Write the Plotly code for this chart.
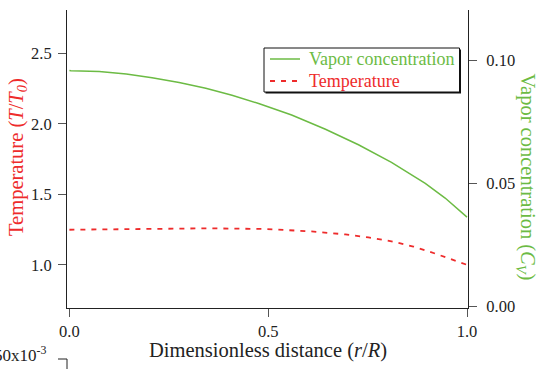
import plotly.graph_objects as go

# Vapor concentration (right axis)
r_cv = [0.0, 0.004, 0.075, 0.143, 0.208, 0.276, 0.343, 0.409, 0.476, 0.559, 0.644, 0.727, 0.810, 0.895, 0.945, 0.987, 1.0]
cv = [0.0960, 0.0959, 0.0955, 0.0945, 0.0930, 0.0911, 0.0887, 0.0859, 0.0825, 0.0778, 0.0720, 0.0657, 0.0585, 0.0500, 0.0440, 0.0380, 0.0362]

# Temperature (left axis)
r_t = [0.0, 0.183, 0.351, 0.494, 0.609, 0.694, 0.752, 0.810, 0.865, 0.922, 0.982, 1.0]
temp = [1.249, 1.254, 1.259, 1.254, 1.237, 1.216, 1.195, 1.167, 1.130, 1.078, 1.018, 1.0]

series_names = ["Vapor concentration", "Temperature"]

GREEN = "#6cbb44"
RED = "#ee2b2b"
FONT = "Times New Roman, Liberation Serif, serif"

fig = go.Figure()
fig.add_trace(go.Scatter(x=r_cv, y=cv, mode="lines", yaxis="y2",
                         line=dict(color=GREEN, width=1.5), name=series_names[0], showlegend=False))
fig.add_trace(go.Scatter(x=r_t, y=temp, mode="lines",
                         line=dict(color=RED, width=1.8, dash="5px,6px"), name=series_names[1], showlegend=False))

axis_common = dict(showgrid=False, zeroline=False, showline=True, linecolor="#222", linewidth=1,
                   ticks="outside", ticklen=8, tickcolor="#555", tickwidth=1,
                   tickfont=dict(family=FONT, size=16.5, color="#222"))

fig.update_layout(
    width=540, height=369,
    margin=dict(l=67, r=72, t=10, b=61),
    paper_bgcolor="white", plot_bgcolor="white",
    showlegend=False,
    xaxis=dict(range=[-0.006, 1.0025], tickvals=[0, 0.5, 1.0], ticktext=["0.0", "0.5", "1.0"],
               **axis_common),
    yaxis=dict(range=[0.694, 2.807], tickvals=[1.0, 1.5, 2.0, 2.5], ticktext=["1.0", "1.5", "2.0", "2.5"],
               ticklabelstandoff=3, **axis_common),
    yaxis2=dict(range=[-0.0008, 0.1206], overlaying="y", side="right",
                tickvals=[0.0, 0.05, 0.10], ticktext=["0.00", "0.05", "0.10"],
                ticklabelstandoff=6, **axis_common),
)


def px(x):
    return (x - 67) / 401


def py(y):
    return (308 - y) / 298


# titles
fig.add_annotation(text="Dimensionless distance (<i>r</i>/<i>R</i>)", xref="paper", yref="paper",
                   x=px(268), y=py(350), xanchor="center", yanchor="middle", showarrow=False,
                   font=dict(family=FONT, size=20.5, color="#222"))
fig.add_annotation(text="Temperature (<i>T</i>/<i>T</i><sub><i>0</i></sub>)", xref="paper", yref="paper",
                   x=px(17), y=py(157), xanchor="center", yanchor="middle", showarrow=False, textangle=-90,
                   font=dict(family=FONT, size=20.5, color=RED))
fig.add_annotation(text="Vapor concentration (<i>C</i><sub><i>V</i></sub>)", xref="paper", yref="paper",
                   x=px(526.5), y=py(177), xanchor="center", yanchor="middle", showarrow=False, textangle=90,
                   font=dict(family=FONT, size=20.5, color=GREEN))
fig.add_annotation(text="50x10<sup>-3</sup>", xref="paper", yref="paper",
                   x=px(48), y=py(354), xanchor="right", yanchor="middle", showarrow=False,
                   font=dict(family=FONT, size=17, color="#222"))
fig.add_shape(type="line", xref="paper", yref="paper",
              x0=px(58), x1=px(67), y0=py(359), y1=py(359), line=dict(color="#222", width=1))
fig.add_shape(type="line", xref="paper", yref="paper",
              x0=px(67), x1=px(67), y0=py(359), y1=py(372), line=dict(color="#222", width=1))

# legend box (with shadow)
fig.add_shape(type="rect", xref="paper", yref="paper", layer="above",
              x0=px(265.5), x1=px(461), y0=py(93.5), y1=py(49.5), fillcolor="#111", line=dict(width=0))
fig.add_shape(type="rect", xref="paper", yref="paper", layer="above",
              x0=px(264), x1=px(459.5), y0=py(92), y1=py(48), fillcolor="white", line=dict(color="#111", width=1))
fig.add_shape(type="line", xref="paper", yref="paper", layer="above",
              x0=px(270), x1=px(300), y0=py(59), y1=py(59), line=dict(color=GREEN, width=1.5))
fig.add_shape(type="line", xref="paper", yref="paper", layer="above",
              x0=px(270), x1=px(300), y0=py(81), y1=py(81), line=dict(color=RED, width=1.8, dash="5px,6px"))
fig.add_annotation(text=series_names[0], xref="paper", yref="paper", x=px(307), y=py(59),
                   xanchor="left", yanchor="middle", showarrow=False,
                   font=dict(family=FONT, size=18, color=GREEN))
fig.add_annotation(text=series_names[1], xref="paper", yref="paper", x=px(307), y=py(81),
                   xanchor="left", yanchor="middle", showarrow=False,
                   font=dict(family=FONT, size=18, color=RED))

fig.write_html("out.html")
